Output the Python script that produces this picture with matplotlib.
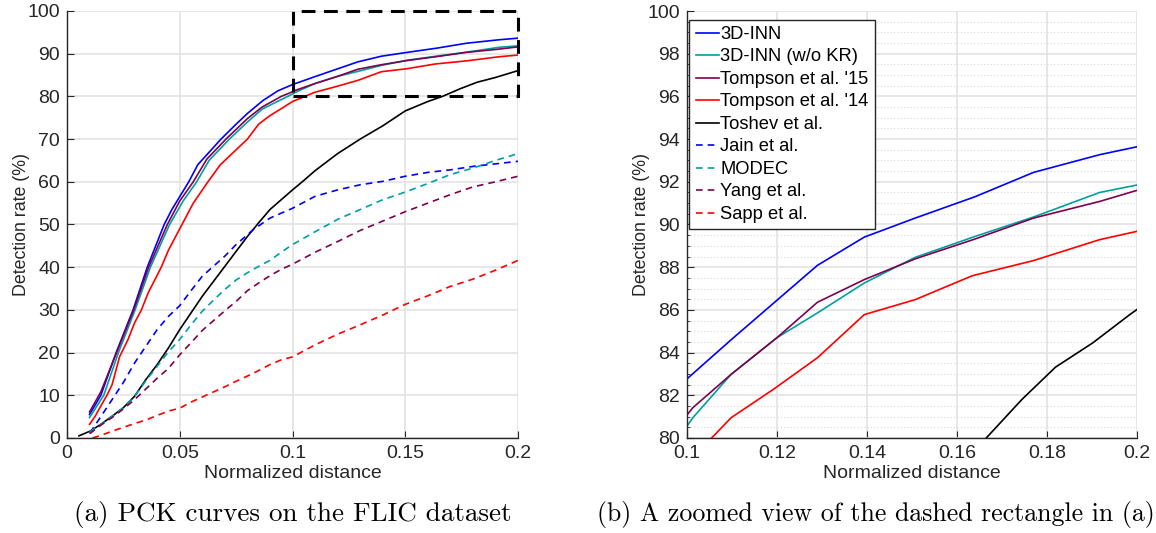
import matplotlib
matplotlib.use('Agg')
from matplotlib import pyplot as plt
from matplotlib.patches import Rectangle
from matplotlib.ticker import MultipleLocator

plt.rcParams['font.family'] = ['Liberation Sans', 'DejaVu Sans']

# PCK curves on FLIC
inn_x = [0.01, 0.015, 0.0218, 0.0293, 0.0356, 0.0431, 0.0465, 0.054, 0.058, 0.0683, 0.075, 0.08, 0.0868, 0.0935,
         0.1, 0.1098, 0.129, 0.1394, 0.1507, 0.164, 0.177, 0.1917, 0.2]
inn_y = [5.5, 10, 20, 30, 40, 50, 53.5, 60, 64, 70, 73.5, 76, 79, 81.3,
         82.77, 84.6, 88.09, 89.41, 90.3, 91.3, 92.44, 93.27, 93.64]

nokr_x = [0.01, 0.0163, 0.0228, 0.0302, 0.037, 0.0455, 0.0515, 0.0575, 0.063, 0.072, 0.08, 0.0865, 0.094,
          0.1, 0.1013, 0.1098, 0.12, 0.129, 0.1394, 0.1507, 0.164, 0.177, 0.1917, 0.2]
nokr_y = [4.8, 10, 20, 30, 40, 50, 55.5, 60, 65, 70, 74, 77, 79,
          80.56, 80.95, 82.98, 84.7, 85.86, 87.26, 88.46, 89.44, 90.35, 91.5, 91.85]

t15_x = [0.01, 0.015, 0.022, 0.0296, 0.0362, 0.0445, 0.05, 0.056, 0.062, 0.0705, 0.08, 0.0865, 0.095,
         0.1, 0.1013, 0.1098, 0.12, 0.129, 0.1394, 0.1507, 0.164, 0.177, 0.1917, 0.2]
t15_y = [6.1, 10.8, 20, 30, 40, 50, 55.5, 60, 65.3, 70, 74.8, 77.5, 80,
         81.08, 81.42, 82.98, 84.7, 86.36, 87.42, 88.39, 89.32, 90.3, 91.08, 91.6]

t14_x = [0.01, 0.0125, 0.015, 0.0177, 0.02, 0.0233, 0.027, 0.03, 0.033, 0.036, 0.0418, 0.045, 0.051, 0.056,
         0.0625, 0.068, 0.074, 0.08, 0.085, 0.09, 0.094,
         0.1, 0.1098, 0.1192, 0.129, 0.1394, 0.1507, 0.1634, 0.177, 0.1917, 0.2]
t14_y = [3.2, 5.1, 7.5, 10, 12.5, 19, 23, 27, 30, 34, 40, 44, 50, 55,
         60, 64, 67, 70, 73.5, 75.5, 76.8,
         78.8, 80.95, 82.28, 83.76, 85.78, 86.48, 87.6, 88.31, 89.29, 89.68]

toshev_x = [0.0053, 0.0102, 0.015, 0.02, 0.025, 0.03, 0.035, 0.04, 0.045, 0.05, 0.055, 0.06, 0.065, 0.07,
            0.075, 0.08, 0.085, 0.09, 0.095, 0.1, 0.105, 0.11, 0.12, 0.13, 0.14, 0.15, 0.16, 0.1665,
            0.1744, 0.1819, 0.1902, 0.1984, 0.2]
toshev_y = [0.5, 1.6, 3.2, 5.1, 7.1, 9.8, 13.7, 17.2, 21.1, 25.4, 29.3, 33.2, 36.7, 40.2,
            43.7, 47.2, 50.4, 53.5, 55.8, 58.1, 60.3, 62.6, 66.6, 70, 73.1, 76.6, 78.8, 80,
            81.8, 83.32, 84.46, 85.78, 86.02]

jain_x = [0.0102, 0.015, 0.02, 0.025, 0.03, 0.035, 0.04, 0.045, 0.05, 0.055, 0.06, 0.07, 0.075, 0.0826,
          0.09, 0.1, 0.11, 0.12, 0.13, 0.14, 0.15, 0.16, 0.17, 0.18, 0.19, 0.2]
jain_y = [1.2, 5, 9, 13, 17.6, 21.5, 25.4, 28.5, 31, 34.5, 37.9, 42.6, 45.3, 48.8,
          51.5, 53.8, 56.6, 58.1, 59.3, 60.1, 61.3, 62.2, 62.8, 63.6, 64.2, 64.8]

modec_x = [0.01, 0.015, 0.02, 0.025, 0.03, 0.035, 0.04, 0.045, 0.05, 0.055, 0.06, 0.065, 0.07, 0.075,
           0.08, 0.085, 0.09, 0.095, 0.1, 0.11, 0.12, 0.13, 0.14, 0.15, 0.16, 0.17, 0.18, 0.19, 0.2]
modec_y = [1.4, 3.2, 5.1, 7.1, 9.8, 13.4, 16.8, 20.2, 23.1, 26.5, 29.7, 32.3, 34.8, 37,
           38.7, 40.2, 41.6, 43.5, 45.3, 48.3, 51.2, 53.5, 55.8, 57.6, 59.6, 61.7, 63.2, 65, 66.6]

yang_x = [0.01, 0.015, 0.02, 0.025, 0.03, 0.035, 0.04, 0.045, 0.05, 0.055, 0.06, 0.065, 0.07, 0.075,
          0.08, 0.085, 0.09, 0.095, 0.1, 0.11, 0.12, 0.13, 0.14, 0.15, 0.16, 0.17, 0.18, 0.19, 0.2]
yang_y = [1, 3, 4.8, 6.8, 9, 11.5, 14, 16.3, 19.5, 22.3, 25.2, 27.5, 29.8, 32,
          34.5, 36.3, 38, 39.5, 40.7, 43.5, 46, 48.6, 50.8, 53, 55, 57, 58.8, 60, 61.3]

sapp_x = [0.0113, 0.015, 0.02, 0.025, 0.03, 0.035, 0.04, 0.045, 0.05, 0.055, 0.06, 0.065, 0.07, 0.075,
          0.08, 0.085, 0.09, 0.095, 0.1, 0.11, 0.12, 0.13, 0.14, 0.15, 0.16, 0.17, 0.18, 0.19, 0.2]
sapp_y = [0, 0.6, 1.6, 2.5, 3.4, 4.2, 5.3, 6.3, 7.0, 8.4, 9.6, 10.8, 12, 13.3,
          14.5, 15.8, 17.2, 18.3, 19.0, 21.8, 24.3, 26.5, 28.8, 31.3, 33.3, 35.5, 37.2, 39.3, 41.6]

names = ['3D-INN', '3D-INN (w/o KR)', "Tompson et al. '15", "Tompson et al. '14", 'Toshev et al.',
         'Jain et al.', 'MODEC', 'Yang et al.', 'Sapp et al.']
xs = [inn_x, nokr_x, t15_x, t14_x, toshev_x, jain_x, modec_x, yang_x, sapp_x]
ys = [inn_y, nokr_y, t15_y, t14_y, toshev_y, jain_y, modec_y, yang_y, sapp_y]
colors = ['#0000ff', '#00a0a0', '#800050', '#ff0000', '#000000',
          '#0000ff', '#00a0a0', '#800050', '#ff0000']
styles = ['-', '-', '-', '-', '-', (0, (4, 3)), (0, (4, 3)), (0, (4, 3)), (0, (4, 3))]

fig = plt.figure(figsize=(11.56, 5.33), dpi=100)
W, H = 1156.0, 533.0
ax1 = fig.add_axes([67 / W, 1 - 438 / H, 451 / W, 427 / H])
ax2 = fig.add_axes([687 / W, 1 - 438 / H, 450 / W, 427 / H])

for ax in (ax1, ax2):
    for x, y, c, s, n in zip(xs, ys, colors, styles, names):
        ax.plot(x, y, color=c, linestyle=s, linewidth=1.2, label=n)
    ax.spines['top'].set_visible(False)
    ax.spines['right'].set_visible(False)
    for sp in ('left', 'bottom'):
        ax.spines[sp].set_color('#262626')
        ax.spines[sp].set_linewidth(1.0)
    ax.tick_params(direction='in', length=5, labelsize=14, colors='#262626', pad=5)
    ax.grid(True, which='major', color='#e3e3e3', linewidth=1.2)
    ax.set_axisbelow(True)
    ax.set_xlabel('Normalized distance', fontsize=14, color='#262626', labelpad=2)
    ax.set_ylabel('Detection rate (%)', fontsize=12.8, color='#262626', labelpad=-2)

# (a) full view
ax1.set_xlim(0, 0.2)
ax1.set_ylim(0, 100)
ax1.set_xticks([0, 0.05, 0.1, 0.15, 0.2])
ax1.set_xticklabels(['0', '0.05', '0.1', '0.15', '0.2'])
ax1.set_yticks(range(0, 101, 10))
ax1.add_patch(Rectangle((0.1, 80), 0.1, 20, fill=False, edgecolor='black',
                        linewidth=2.2, linestyle=(0, (4.5, 2.8)), clip_on=False, zorder=5))

# (b) zoomed view
ax2.set_xlim(0.1, 0.2)
ax2.set_ylim(80, 100)
ax2.set_xticks([0.1, 0.12, 0.14, 0.16, 0.18, 0.2])
ax2.set_xticklabels(['0.1', '0.12', '0.14', '0.16', '0.18', '0.2'])
ax2.set_yticks(range(80, 101, 2))
ax2.yaxis.set_minor_locator(MultipleLocator(0.5))
ax2.tick_params(which='minor', direction='in', length=2.5, colors='#262626')
ax2.grid(True, which='minor', axis='y', color='#d8d8d8', linewidth=0.8, linestyle=(0, (1, 2)))
leg = ax2.legend(loc='upper left', bbox_to_anchor=(0.005, 0.98), fontsize=13.2, handlelength=1.3,
                 handletextpad=0.05, labelspacing=0.3, borderpad=0.35, borderaxespad=0,
                 fancybox=False, framealpha=1)
leg.get_frame().set_edgecolor('#262626')
leg.get_frame().set_linewidth(1.0)

fig.text(293 / W, 1 - 514 / H, '(a) PCK curves on the FLIC dataset', family='cmr10',
         fontsize=19.5, ha='center', va='center')
fig.text(876 / W, 1 - 514 / H, '(b) A zoomed view of the dashed rectangle in (a)', family='cmr10',
         fontsize=18.6, ha='center', va='center')

fig.savefig('out.png', dpi=100)
plt.close()
